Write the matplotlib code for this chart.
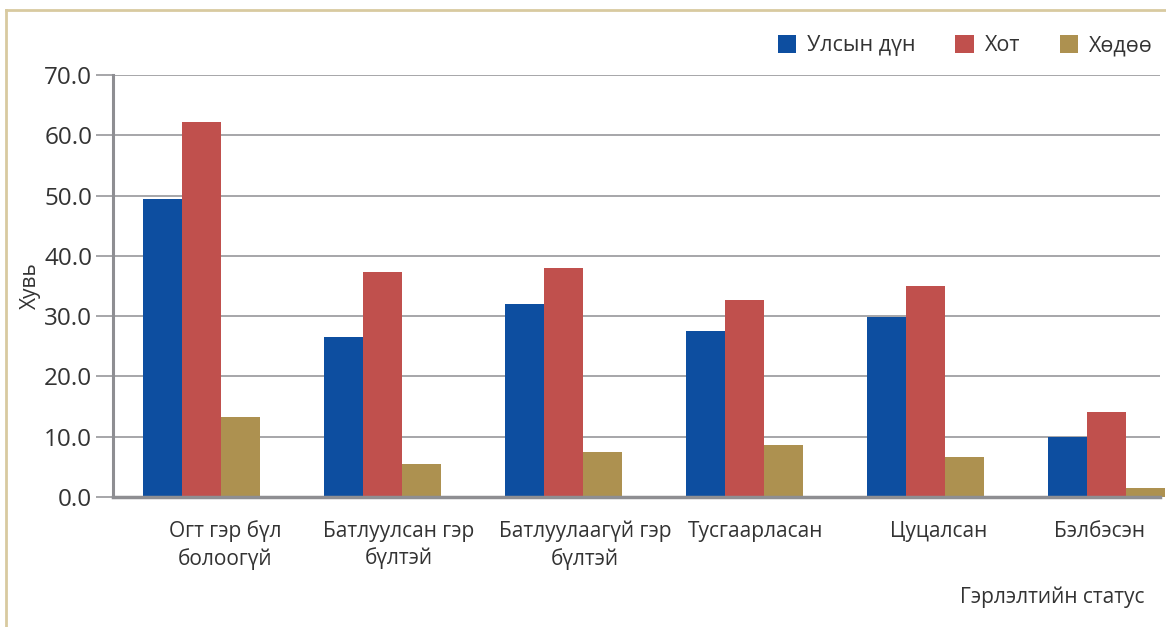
import matplotlib
matplotlib.use("Agg")
import matplotlib.pyplot as plt
from matplotlib.lines import Line2D
import numpy as np

plt.rcParams['font.family'] = ['Open Sans', 'DejaVu Sans']

categories = ["Огт гэр бүл\nболоогүй", "Батлуулсан гэр\nбүлтэй", "Батлуулаагүй гэр\nбүлтэй",
              "Тусгаарласан", "Цуцалсан", "Бэлбэсэн"]
series_names = ["Улсын дүн", "Хот", "Хөдөө"]
national = [49.4, 26.5, 32.0, 27.5, 29.9, 10.0]
urban = [62.2, 37.3, 38.0, 32.7, 35.0, 14.1]
rural = [13.3, 5.5, 7.5, 8.6, 6.6, 1.5]
yticks = [0, 10, 20, 30, 40, 50, 60, 70]

# horizontal nudge of each category label (in category units)
label_nudge = [0.13, 0.09, 0.12, 0.06, 0.07, -0.04]

colors = ["#0D4EA0", "#C0504D", "#AD9150"]
grid_col = "#8E8E92"
text_col = "#333333"

fig = plt.figure(figsize=(11.66, 6.27), dpi=100)
ax = fig.add_axes([113/1166, 1-497/627, (1160-113)/1166, (497-75)/627])

x = np.arange(len(categories))
w = 0.215
for i, (vals, name) in enumerate(zip([national, urban, rural], series_names)):
    ax.bar(x + (i-1)*w, vals, w, color=colors[i], label=name, clip_on=False, zorder=3)

ax.set_ylim(0, 70)
ax.set_xlim(-0.49, 5.296)
ax.set_yticks(yticks)
ax.set_yticklabels([f"{v:.1f}" for v in yticks], fontsize=17.5, color=text_col)
ax.yaxis.grid(True, color=grid_col, linewidth=1.1, zorder=0)
ax.set_axisbelow(True)
ax.tick_params(axis='y', length=12, width=1.1, color=grid_col, pad=3)
ax.tick_params(axis='x', length=0, pad=17)
ax.set_xticks(x + np.array(label_nudge))
ax.set_xticklabels(categories, fontsize=15, color=text_col, linespacing=1.35)
for s in ['top', 'right']:
    ax.spines[s].set_visible(False)
ax.spines['left'].set_color(grid_col)
ax.spines['left'].set_linewidth(2.2)
ax.spines['bottom'].set_color(grid_col)
ax.spines['bottom'].set_linewidth(2.5)
ax.spines['bottom'].set_zorder(4)

ax.set_ylabel("Хувь", fontsize=15, color=text_col, labelpad=2)
fig.text(1145/1166, 1-597/627, "Гэрлэлтийн статус", fontsize=15, color=text_col,
         ha='right', va='center')

leg = fig.legend(loc='upper right', bbox_to_anchor=(1172/1166, 1-16/627), ncol=3,
                 frameon=False, fontsize=15.5, handlelength=0.85, handleheight=0.85,
                 handletextpad=0.5, columnspacing=1.85, labelcolor=text_col)

frame_col = "#D8CAA0"
fig.add_artist(Line2D([6/1166, 1], [1-10/627, 1-10/627], transform=fig.transFigure,
                      color=frame_col, linewidth=2))
fig.add_artist(Line2D([6/1166, 6/1166], [0, 1-10/627], transform=fig.transFigure,
                      color=frame_col, linewidth=2))

fig.savefig("out.png", dpi=100)
